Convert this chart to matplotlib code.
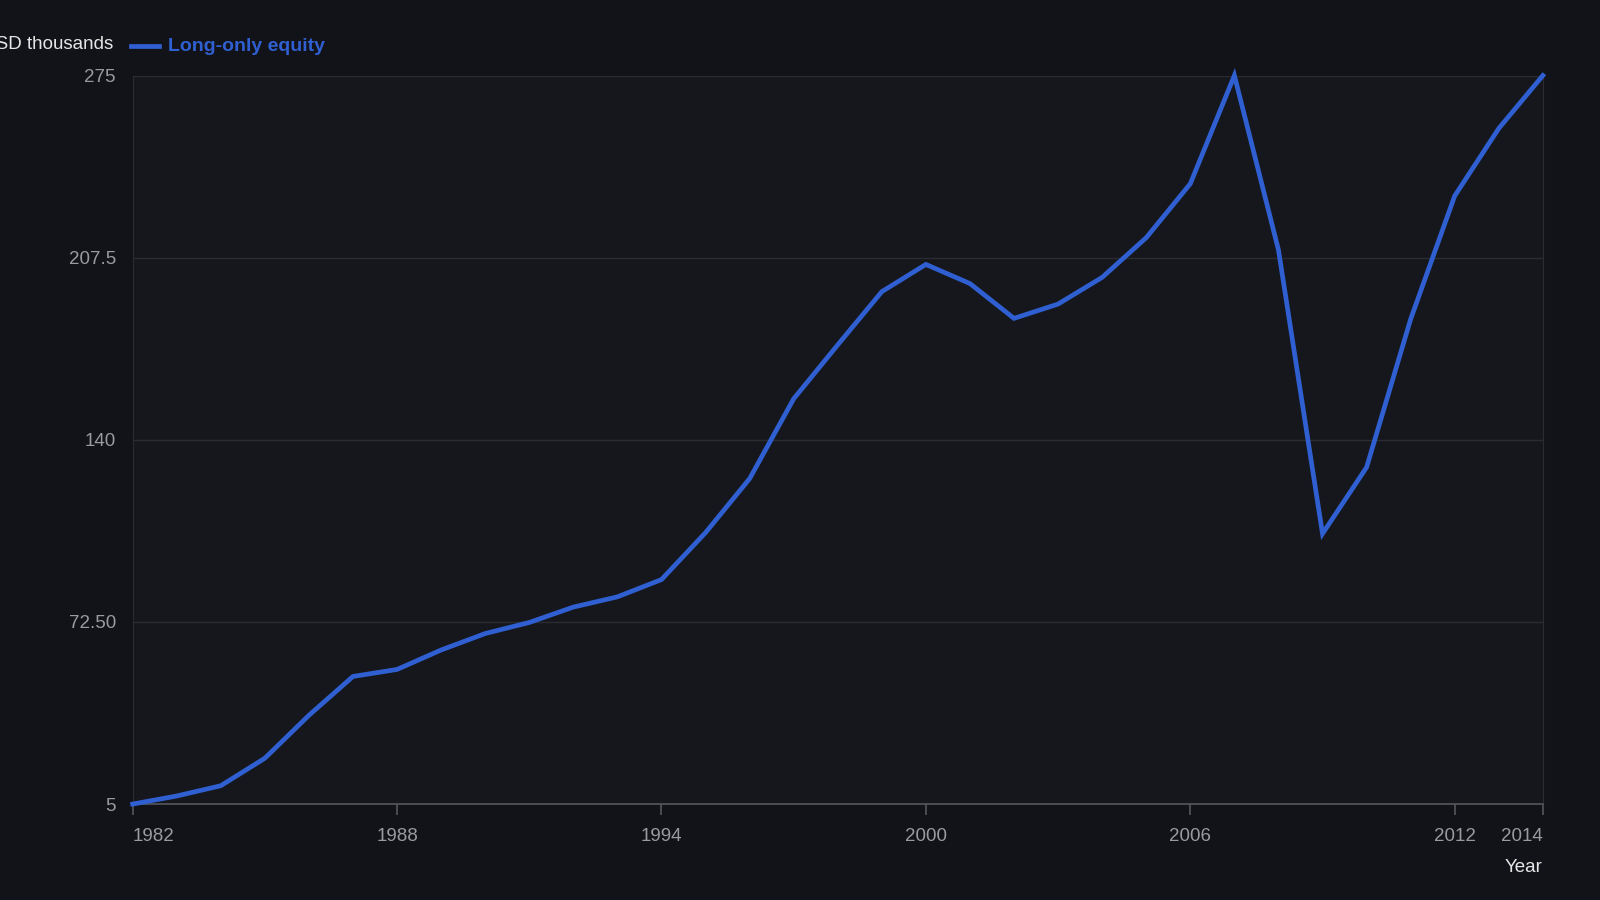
import matplotlib
matplotlib.use("Agg")
import matplotlib.pyplot as plt
import numpy as np

plt.rcParams['font.family'] = ['Liberation Sans', 'DejaVu Sans']

years = list(range(1982, 2015))
equity = [5, 8, 11.8, 22, 37.9, 52.3, 54.9, 62.1, 68.2, 72.3, 78, 81.8, 88.2,
          105.6, 125.6, 155.2, 175.2, 194.9, 205, 197.9, 185, 190.3, 200.2,
          214.9, 234.9, 275, 210.4, 105.2, 129.8, 184.7, 230.4, 255.4, 275]

y_ticks = [5, 72.5, 140, 207.5, 275]
y_labels = ['5', '72.50', '140', '207.5', '275']
x_ticks = [1982, 1988, 1994, 2000, 2006, 2012, 2014]

bg = '#111318'
panel = '#15171c'
blue = '#2f5fd0'
grey = '#9a9b9f'

fig = plt.figure(figsize=(16, 9), dpi=100, facecolor=bg)
W, H = 1568, 882
ax = fig.add_axes([130/W, 1 - 788/H, (1512-130)/W, (788-74)/H])
ax.set_facecolor(panel)

ax.plot(years, equity, color=blue, lw=3.4, solid_joinstyle='miter', clip_on=False, zorder=3)

ax.set_xlim(1982, 2014)
ax.set_ylim(5, 275)
ax.set_yticks(y_ticks)
ax.set_yticklabels(y_labels)
ax.set_xticks(x_ticks)
ax.set_xticklabels([str(x) for x in x_ticks])
labs = ax.get_xticklabels()
labs[0].set_ha('left')
labs[-1].set_ha('right')

ax.grid(axis='y', color='#2a2c31', lw=1)
ax.tick_params(axis='y', length=0, pad=12, labelcolor=grey, labelsize=13.5)
ax.tick_params(axis='x', length=8, color='#55575c', width=1.2, pad=9, labelcolor=grey, labelsize=13.5)
for side in ['top', 'right', 'left']:
    ax.spines[side].set_color('#2a2c31')
ax.spines['bottom'].set_color('#55575c')
ax.spines['bottom'].set_linewidth(1.2)

# axis title sits at the top-left and runs off the edge, as in the original
fig.text(111/W, 1 - 44/H, 'USD thousands', color='#e6e6e6', fontsize=13.5, ha='right', va='center')
fig.add_artist(plt.Line2D([128/W, 156/W], [1 - 45/H, 1 - 45/H], color=blue, lw=3.4))
fig.text(165/W, 1 - 46/H, 'Long-only equity', color=blue, fontsize=14, fontweight='bold', ha='left', va='center')
fig.text(1512/W, 1 - 850/H, 'Year', color='#e6e6e6', fontsize=13.5, ha='right', va='center')

fig.savefig('out.png', dpi=100, facecolor=bg)
